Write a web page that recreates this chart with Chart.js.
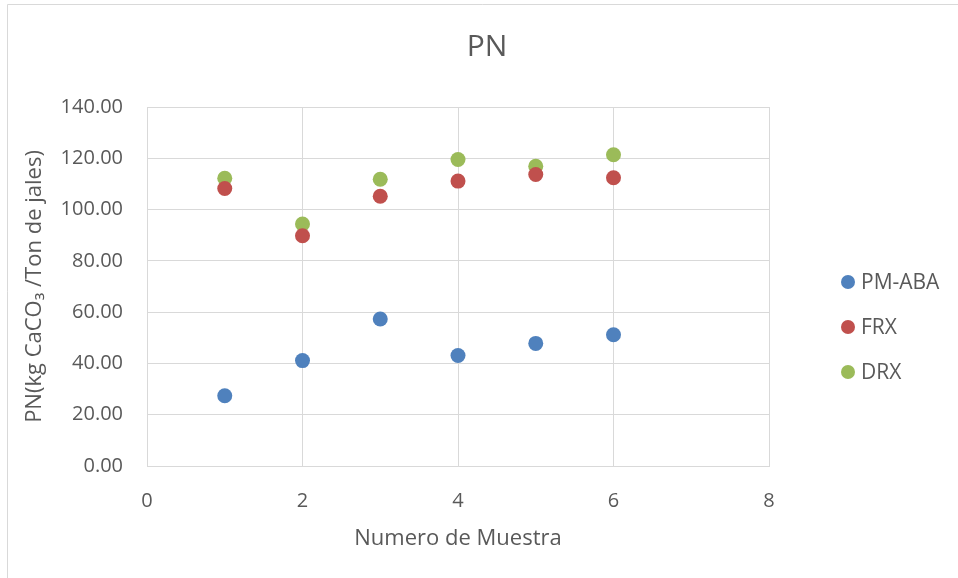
<!DOCTYPE html>
<html>
<head>
<meta charset="utf-8">
<title>PN</title>
<script src="https://cdn.jsdelivr.net/npm/chart.js@4.4.1/dist/chart.umd.min.js"></script>
<style>
  html, body { margin: 0; padding: 0; background: #ffffff; }
  #wrap { width: 958px; height: 578px; position: relative; }
</style>
</head>
<body>
<div id="wrap"><canvas id="pnChart" width="958" height="578"></canvas></div>
<script>
// Sample numbers and PN values (kg CaCO3 / Ton de jales)
const sampleNumbers = [1, 2, 3, 4, 5, 6];
const pmAba = [27.4, 41.1, 57.3, 43.1, 47.8, 51.2];
const frx = [108.2, 89.8, 105.2, 111.1, 113.7, 112.4];
const drx = [112.2, 94.4, 111.8, 119.5, 116.9, 121.4];

const seriesNames = ['PM-ABA', 'FRX', 'DRX'];
const seriesColors = ['#4f81bd', '#c0504d', '#9bbb59'];
const chartTitle = 'PN';

const FONT = "'Open Sans', 'Liberation Sans', sans-serif";
const TEXT = '#595959';
const GRID = '#d9d9d9';

function toPoints(values) {
  return sampleNumbers.map((x, i) => ({ x: x, y: values[i] }));
}

// Frame lines (left + top) and the title centred on the whole picture
const framePlugin = {
  id: 'frame',
  beforeDraw(chart) {
    const ctx = chart.ctx;
    ctx.save();
    ctx.fillStyle = '#ffffff';
    ctx.fillRect(0, 0, chart.width, chart.height);
    ctx.strokeStyle = GRID;
    ctx.lineWidth = 1;
    ctx.beginPath();
    ctx.moveTo(7.5, chart.height);
    ctx.lineTo(7.5, 4.5);
    ctx.lineTo(chart.width, 4.5);
    ctx.stroke();

    ctx.fillStyle = TEXT;
    ctx.font = '30px ' + FONT;
    ctx.textAlign = 'center';
    ctx.textBaseline = 'middle';
    ctx.fillText(chartTitle, 487, 47);
    ctx.restore();
  }
};

// Legend on the right, drawn from dataset labels and colours
const sideLegend = {
  id: 'sideLegend',
  afterDraw(chart) {
    const ctx = chart.ctx;
    const x = 848;
    const y0 = 282;
    const gap = 45;
    ctx.save();
    ctx.font = '21px ' + FONT;
    ctx.textBaseline = 'middle';
    ctx.textAlign = 'left';
    chart.data.datasets.forEach((ds, i) => {
      const y = y0 + i * gap;
      ctx.fillStyle = ds.backgroundColor;
      ctx.beginPath();
      ctx.arc(x, y, 7, 0, Math.PI * 2);
      ctx.fill();
      ctx.fillStyle = TEXT;
      ctx.fillText(ds.label, x + 13, y + 1);
    });
    ctx.restore();
  }
};

const ctx = document.getElementById('pnChart');

new Chart(ctx, {
  type: 'scatter',
  data: {
    datasets: [pmAba, frx, drx].map((vals, i) => ({
      label: seriesNames[i],
      data: toPoints(vals),
      backgroundColor: seriesColors[i],
      borderColor: seriesColors[i],
      borderWidth: 0,
      pointRadius: 7.5,
      pointHoverRadius: 7.5
    }))
  },
  options: {
    responsive: false,
    animation: false,
    devicePixelRatio: 1,
    layout: {
      padding: { top: 107, left: 10, right: 189, bottom: 0 }
    },
    plugins: {
      legend: { display: false },
      tooltip: { enabled: false },
      title: { display: false }
    },
    scales: {
      x: {
        type: 'linear',
        min: 0,
        max: 8,
        afterFit: (scale) => { scale.height = 112; },
        grid: { color: GRID, drawTicks: false },
        border: { color: GRID },
        ticks: {
          stepSize: 2,
          color: TEXT,
          padding: 23,
          font: { family: FONT, size: 20 }
        },
        title: {
          display: true,
          text: 'Numero de Muestra',
          color: TEXT,
          padding: 26,
          font: { family: FONT, size: 22 }
        }
      },
      y: {
        min: 0,
        max: 140,
        afterFit: (scale) => { scale.width = 137; },
        grid: { color: GRID, drawTicks: false },
        border: { color: GRID },
        ticks: {
          stepSize: 20,
          color: TEXT,
          padding: 24,
          font: { family: FONT, size: 20 },
          callback: (value) => value.toFixed(2)
        },
        title: {
          display: true,
          text: 'PN(kg CaCO\u2083 /Ton de jales)',
          color: TEXT,
          padding: 12,
          font: { family: FONT, size: 22 }
        }
      }
    }
  },
  plugins: [framePlugin, sideLegend]
});
</script>
</body>
</html>
